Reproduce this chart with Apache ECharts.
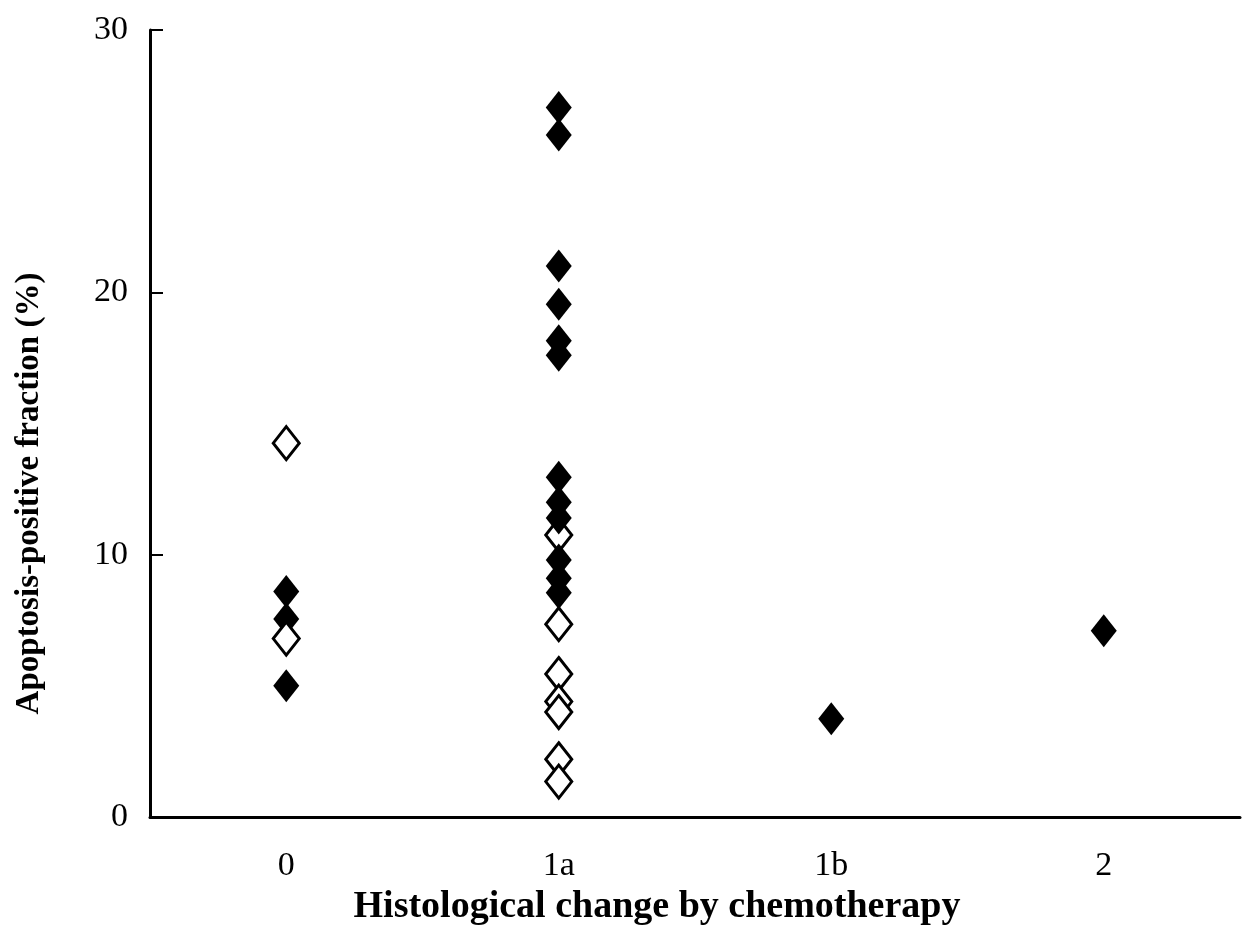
<!DOCTYPE html>
<html>
<head>
<meta charset="utf-8">
<script src="https://cdn.jsdelivr.net/npm/echarts@6/dist/echarts.min.js"></script>
<style>
  html, body { margin: 0; padding: 0; background: #fff; }
  #main { width: 1250px; height: 926px; }
</style>
</head>
<body>
<div id="main"></div>
<script>
const categories = ["0", "1a", "1b", "2"];
const yTicks = [0, 10, 20, 30];

// solid diamonds
const filledPoints = [
    ["0", 8.6], ["0", 7.55], ["0", 5.0],
    ["1a", 27.05], ["1a", 26.0], ["1a", 21.0], ["1a", 19.55], ["1a", 18.15], ["1a", 17.6],
    ["1a", 12.95], ["1a", 12.0], ["1a", 11.4], ["1a", 9.8], ["1a", 9.1], ["1a", 8.55],
    ["1b", 3.75],
    ["2", 7.1]
];

// open diamonds
const openPoints = [
    ["0", 14.25], ["0", 6.8],
    ["1a", 7.35], ["1a", 5.45], ["1a", 4.4], ["1a", 4.0], ["1a", 2.2], ["1a", 1.35]
];

// open diamond partly hidden under the solid ones
const openBehind = [["1a", 10.75]];

const serif = "'Liberation Serif', 'Times New Roman', serif";
const chart = echarts.init(document.getElementById("main"));

const diamond = [26, 33];
const openStyle = { color: "#fff", borderColor: "#000", borderWidth: 3, opacity: 1 };

option = {
    animation: false,
    backgroundColor: "#fff",
    grid: { left: 150, right: 10, top: 30, bottom: 109, outerBoundsMode: "none", containLabel: false },
    xAxis: [
        {
            type: "category",
            data: categories,
            boundaryGap: true,
            axisLine: { lineStyle: { color: "#000", width: 3 } },
            axisTick: { inside: true, length: 17, alignWithLabel: true, lineStyle: { color: "#000", width: 2 } },
            axisLabel: { fontFamily: serif, fontSize: 34, color: "#000", margin: 32 },
            name: "Histological change by chemotherapy",
            nameLocation: "middle",
            nameGap: 70,
            nameTextStyle: { fontFamily: serif, fontSize: 38, fontWeight: "bold", color: "#000", padding: [0, 76, 0, 0] }
        },
        {
            type: "category",
            data: categories,
            position: "bottom",
            axisLine: { show: false },
            axisTick: { length: 6, alignWithLabel: true, lineStyle: { color: "#000", width: 2 } },
            axisLabel: { show: false }
        }
    ],
    yAxis: {
        type: "value",
        min: yTicks[0],
        max: yTicks[yTicks.length - 1],
        interval: 10,
        splitLine: { show: false },
        axisLine: { show: true, lineStyle: { color: "#000", width: 3 } },
        axisTick: { show: true, inside: true, length: 13, lineStyle: { color: "#000", width: 2 } },
        axisLabel: { fontFamily: serif, fontSize: 34, color: "#000", margin: 22 },
        name: "Apoptosis-positive fraction (%)",
        nameLocation: "middle",
        nameRotate: 90,
        nameGap: 104,
        nameTextStyle: { fontFamily: serif, fontSize: 33, fontWeight: "bold", color: "#000", padding: [0, 140, 0, 0] }
    },
    series: [
        {
            type: "scatter",
            data: openBehind,
            symbol: "diamond",
            symbolSize: diamond,
            itemStyle: openStyle,
            z: 2
        },
        {
            type: "scatter",
            data: filledPoints,
            symbol: "diamond",
            symbolSize: diamond,
            itemStyle: { color: "#000", opacity: 1 },
            z: 3
        },
        {
            type: "scatter",
            data: openPoints,
            symbol: "diamond",
            symbolSize: diamond,
            itemStyle: openStyle,
            z: 4
        }
    ]
};

chart.setOption(option);
</script>
</body>
</html>
